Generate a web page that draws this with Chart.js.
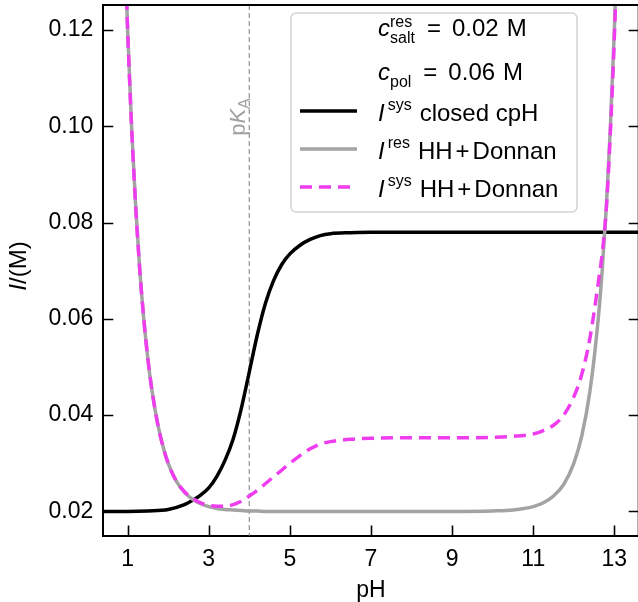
<!DOCTYPE html>
<html>
<head>
<meta charset="utf-8">
<script src="https://cdn.jsdelivr.net/npm/chart.js@4.4.1/dist/chart.umd.min.js"></script>
<style>
  html, body { margin: 0; padding: 0; background: #fff; overflow: hidden; }
  #wrap { position: absolute; left: 0; top: 0; width: 646px; height: 602px; }
</style>
</head>
<body>
<div id="wrap"><canvas id="chart" width="646" height="602"></canvas></div>
<script>
'use strict';

// values
const phClosed   = [0.4, 1.0, 1.5, 2.0, 2.4, 2.6, 2.8, 3.0, 3.2, 3.4, 3.6, 3.8, 4.0, 4.2, 4.4, 4.6, 4.8, 5.0, 5.25, 5.5, 5.75, 6.0, 6.5, 7.0, 13.6];
const iSysClosed = [0.0200, 0.0200, 0.0201, 0.0204, 0.0214, 0.0223, 0.0234, 0.0249, 0.0273, 0.0306, 0.0350, 0.0413, 0.0490, 0.0568, 0.0633, 0.0680, 0.0713, 0.0735, 0.0753, 0.0765, 0.0773, 0.0777, 0.0779, 0.0780, 0.0780];

const phDonnan   = [0.8, 0.9, 1.0, 1.1, 1.2, 1.3, 1.4, 1.5, 1.6, 1.75, 1.9, 2.0, 2.2, 2.4, 2.6, 2.8, 3.0, 3.2, 3.4, 3.6, 3.8, 4.0, 4.2, 4.4, 4.6, 4.8, 5.0, 5.25, 5.5, 5.75, 6.0, 6.5, 7.0, 8.0, 9.0, 10.0, 10.5, 11.0, 11.25, 11.5, 11.75, 12.0, 12.2, 12.4, 12.6, 12.7, 12.8, 12.9, 13.0, 13.1, 13.2];
const iResDonnan = [0.178, 0.146, 0.120, 0.0994, 0.0831, 0.0701, 0.0598, 0.0516, 0.0451, 0.0378, 0.0326, 0.0300, 0.0263, 0.0240, 0.0225, 0.0216, 0.0210, 0.0206, 0.0204, 0.0203, 0.0202, 0.0201, 0.0201, 0.0200, 0.0200, 0.0200, 0.0200, 0.0200, 0.0200, 0.0200, 0.0200, 0.0200, 0.0200, 0.0200, 0.0200, 0.0201, 0.0203, 0.0210, 0.0218, 0.0232, 0.0256, 0.0300, 0.0358, 0.0451, 0.0598, 0.0701, 0.0831, 0.0994, 0.120, 0.146, 0.178];
const iSysDonnan = [0.178, 0.146, 0.120, 0.0994, 0.0831, 0.0701, 0.0598, 0.0516, 0.0451, 0.0378, 0.0326, 0.0300, 0.0263, 0.0241, 0.0227, 0.0218, 0.0213, 0.0211, 0.0211, 0.0214, 0.0221, 0.0232, 0.0244, 0.0258, 0.0272, 0.0286, 0.0300, 0.0316, 0.0330, 0.0340, 0.0345, 0.0350, 0.0352, 0.0353, 0.0353, 0.0354, 0.0356, 0.0361, 0.0368, 0.0379, 0.0400, 0.0438, 0.0486, 0.0561, 0.0673, 0.0736, 0.0826, 0.0984, 0.1185, 0.1445, 0.1765];

const xTicks = [1, 3, 5, 7, 9, 11, 13];
const yTicks = [0.02, 0.04, 0.06, 0.08, 0.10, 0.12];
const pKa = 4;

const FONT = '"Liberation Sans", Arial, sans-serif';
const BLACK = '#000000';
const GRAY = '#a3a3a3';
const MAGENTA = '#ef3cef';

const toPoints = (xs, ys) => xs.map((x, i) => ({ x, y: ys[i] }));

// draws a run of text pieces (italic / sup / sub), returns end x
function drawParts(ctx, x, y, parts, size, dry) {
  for (const p of parts) {
    if (p.gap) { x += p.gap; continue; }
    const s = Math.round(size * (p.s || 1));
    ctx.font = (p.it ? 'italic ' : '') + s + 'px ' + FONT;
    if (!dry) ctx.fillText(p.t, x, y + (p.dy || 0));
    if (!p.keep) x += ctx.measureText(p.t).width;
  }
  return x;
}

function drawRotated(ctx, cx, cy, parts, size) {
  const w = drawParts(ctx, 0, 0, parts, size, true);
  ctx.save();
  ctx.translate(cx, cy + w / 2);
  ctx.rotate(-Math.PI / 2);
  drawParts(ctx, 0, 0, parts, size);
  ctx.restore();
}

const donnanText = [{ t: 'HH' }, { gap: 3 }, { t: '+' }, { gap: 3 }, { t: 'Donnan' }];

const legendRows = [
  { y: 36,  parts: [{ t: 'c', it: 1 }, { t: 'res', s: 0.68, dy: -9, keep: 1 }, { t: 'salt', s: 0.68, dy: 7 }, { gap: 12 }, { t: '=' }, { gap: 11 }, { t: '0.02' }, { gap: 8 }, { t: 'M' }] },
  { y: 80,  parts: [{ t: 'c', it: 1 }, { t: 'pol', s: 0.68, dy: 7 }, { gap: 12 }, { t: '=' }, { gap: 11 }, { t: '0.06' }, { gap: 8 }, { t: 'M' }] },
  { y: 121, line: { color: BLACK, width: 3.5, dash: [] },
    parts: [{ t: 'I', it: 1 }, { gap: 3 }, { t: 'sys', s: 0.68, dy: -11 }, { gap: 8 }, { t: 'closed cpH' }] },
  { y: 159, line: { color: GRAY, width: 3.5, dash: [] },
    parts: [{ t: 'I', it: 1 }, { gap: 3 }, { t: 'res', s: 0.68, dy: -11 }, { gap: 8 }, ...donnanText] },
  { y: 197, line: { color: MAGENTA, width: 3.5, dash: [12, 7] },
    parts: [{ t: 'I', it: 1 }, { gap: 3 }, { t: 'sys', s: 0.68, dy: -11 }, { gap: 8 }, ...donnanText] },
];

const framePlugin = {
  id: 'frame',
  beforeDatasetsDraw(chart) {
    const { ctx, chartArea: a, scales: { x } } = chart;
    const px = x.getPixelForValue(pKa);
    ctx.save();
    ctx.strokeStyle = '#999999';
    ctx.lineWidth = 1.3;
    ctx.setLineDash([5, 3]);
    ctx.beginPath();
    ctx.moveTo(px, a.top);
    ctx.lineTo(px, a.bottom);
    ctx.stroke();
    ctx.restore();
  },
  afterDatasetsDraw(chart) {
    const { ctx, chartArea: a, scales: { x, y } } = chart;
    ctx.save();
    ctx.strokeStyle = '#000';
    ctx.lineWidth = 1.6;
    ctx.beginPath();
    for (const v of yTicks) {
      const py = Math.round(y.getPixelForValue(v)) + 0.5;
      ctx.moveTo(a.left, py); ctx.lineTo(a.left + 10, py);
      ctx.moveTo(a.right - 10, py); ctx.lineTo(a.right, py);
    }
    for (const v of xTicks) {
      const px = Math.round(x.getPixelForValue(v)) + 0.5;
      ctx.moveTo(px, a.bottom); ctx.lineTo(px, a.bottom - 10);
    }
    ctx.stroke();
    // top and right spines
    ctx.lineWidth = 2;
    ctx.beginPath();
    ctx.moveTo(a.left, a.top); ctx.lineTo(a.right, a.top); ctx.lineTo(a.right, a.bottom);
    ctx.stroke();
    ctx.restore();
  },
  afterDraw(chart) {
    const { ctx } = chart;
    ctx.save();
    ctx.textBaseline = 'alphabetic';
    ctx.textAlign = 'left';

    // legend box
    ctx.beginPath();
    ctx.roundRect(291, 13, 286, 199, 5);
    ctx.fillStyle = 'rgba(255,255,255,0.8)';
    ctx.fill();
    ctx.strokeStyle = '#d4d4d4';
    ctx.lineWidth = 1.5;
    ctx.stroke();

    for (const row of legendRows) {
      if (row.line) {
        ctx.strokeStyle = row.line.color;
        ctx.lineWidth = row.line.width;
        ctx.setLineDash(row.line.dash);
        ctx.beginPath();
        ctx.moveTo(300, row.y - 10);
        ctx.lineTo(357, row.y - 10);
        ctx.stroke();
        ctx.setLineDash([]);
      }
      ctx.fillStyle = '#000';
      drawParts(ctx, 378, row.y, row.parts, 24);
    }

    // y axis title
    ctx.fillStyle = '#000';
    drawRotated(ctx, 26, 266, [{ t: 'I', it: 1 }, { t: '/(M)' }], 24);

    // pKa label
    ctx.fillStyle = '#a0a0a0';
    drawRotated(ctx, 245, 117, [{ t: 'p' }, { t: 'K', it: 1 }, { t: 'A', s: 0.72, dy: 5 }], 22);
    ctx.restore();
  }
};

const noPad = s => { s.paddingTop = 0; s.paddingBottom = 0; s.paddingLeft = 0; s.paddingRight = 0; };

new Chart(document.getElementById('chart'), {
  type: 'line',
  data: {
    datasets: [{
      label: 'I sys closed cpH',
      data: toPoints(phClosed, iSysClosed),
      borderColor: BLACK,
      borderWidth: 3.5,
      order: 3,
    }, {
      label: 'I res HH+Donnan',
      data: toPoints(phDonnan, iResDonnan),
      borderColor: GRAY,
      borderWidth: 3.5,
      order: 2,
    }, {
      label: 'I sys HH+Donnan',
      data: toPoints(phDonnan, iSysDonnan),
      borderColor: MAGENTA,
      borderWidth: 3.5,
      borderDash: [12, 7],
      order: 1,
    }],
  },
  options: {
    responsive: false,
    animation: false,
    devicePixelRatio: 1,
    layout: { padding: { left: 0, top: 5, right: 7.3, bottom: 0 } },
    elements: {
      point: { radius: 0, hoverRadius: 0 },
      line: { cubicInterpolationMode: 'monotone', fill: false, borderCapStyle: 'butt' },
    },
    datasets: { line: { clip: 0 } },
    plugins: { legend: { display: false }, tooltip: { enabled: false } },
    scales: {
      x: {
        type: 'linear',
        min: 0.4, max: 13.6,
        afterBuildTicks: s => { s.ticks = xTicks.map(v => ({ value: v })); },
        afterFit: s => { s.height = 66.5; noPad(s); },
        grid: { display: false, drawTicks: false },
        border: { display: true, color: '#000', width: 2 },
        ticks: { color: '#000', padding: 10, maxRotation: 0, font: { family: FONT, size: 23 }, callback: v => String(v) },
        title: { display: true, text: 'pH', color: '#000', padding: { top: 0, bottom: 0 }, font: { family: FONT, size: 23, lineHeight: 1 } },
      },
      y: {
        min: 0.015, max: 0.1252,
        afterBuildTicks: s => { s.ticks = yTicks.map(v => ({ value: v })); },
        afterFit: s => { s.width = 103.3; noPad(s); },
        grid: { display: false, drawTicks: false },
        border: { display: true, color: '#000', width: 2 },
        ticks: { color: '#000', padding: 10, font: { family: FONT, size: 23 }, callback: v => v.toFixed(2) },
      },
    },
  },
  plugins: [framePlugin],
});
</script>
</body>
</html>
